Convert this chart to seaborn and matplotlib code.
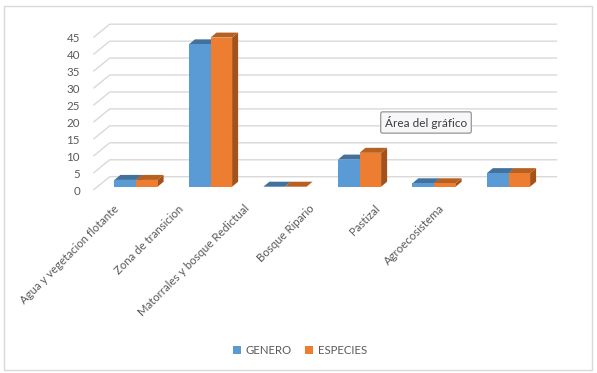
import pandas as pd
import seaborn as sns
import matplotlib.pyplot as plt
import matplotlib.transforms as mtransforms
from matplotlib.patches import Polygon, Rectangle

# datos del grafico
categorias = ["Agua y vegetacion flotante", "Zona de transicion",
              "Matorrales y bosque Redictual", "Bosque Ripario",
              "Pastizal", "Agroecosistema"]
genero = [2, 42, 0, 8, 1, 4]
especies = [2, 44, 0, 10, 1, 4]
series = ["GENERO", "ESPECIES"]
yticks = list(range(0, 50, 5))

azul, naranja = "#5B9BD5", "#ED7D31"
color_top = ["#41719C", "#B8601F"]
color_side = ["#3A6794", "#A3521A"]
gris = "#595959"

df = pd.DataFrame({
    "categoria": categorias * 2,
    "serie": [series[0]] * len(genero) + [series[1]] * len(especies),
    "valor": genero + especies,
})

sns.set_theme(style="white")
plt.rcParams['font.family'] = ['Lato', 'DejaVu Sans']

W, H = 597, 373
fig = plt.figure(figsize=(W / 100, H / 100), dpi=100)
fig.patch.set_facecolor("white")
ax = fig.add_axes([98.75 / W, (H - 186.7) / H, 447 / W, 152.5 / H])
ax.set_facecolor("none")

sns.barplot(data=df, x="categoria", y="valor", hue="serie", palette=[azul, naranja],
            width=0.58, saturation=1, linewidth=0, legend=False, ax=ax)
ax.set_xlim(-0.5, len(categorias) - 0.5)
ax.set_ylim(0, 45)
sns.despine(ax=ax, left=True, bottom=True)


def px(x, y, dx=0, dy=0):
    # desplaza un punto de datos unos pixeles
    X, Y = ax.transData.transform((x, y))
    return ax.transData.inverted().transform((X + dx, Y + dy))


# pared del fondo (lineas de cuadricula en perspectiva)
bx, by = 11, 10
for v in yticks:
    p0 = px(-0.5, v, -5, -3)
    p1 = px(-0.5, v, bx, by)
    p2 = px(len(categorias) - 0.5, v, bx, by)
    ax.plot([p0[0], p1[0], p2[0]], [p0[1], p1[1], p2[1]], color="#D9D9D9",
            lw=1, zorder=1, clip_on=False)

# caras superior y lateral de las barras
dx, dy = 6, 5
for k, cont in enumerate(ax.containers):
    z = 2 + 2 * k
    for bar in cont:
        x0, w, h = bar.get_x(), bar.get_width(), bar.get_height()
        bar.set_zorder(z + 1)
        bar.set_clip_on(False)
        top = [px(x0, h), px(x0 + w, h), px(x0 + w, h, dx, dy), px(x0, h, dx, dy)]
        side = [px(x0 + w, 0), px(x0 + w, h), px(x0 + w, h, dx, dy), px(x0 + w, 0, dx, dy)]
        ax.add_patch(Polygon(side, closed=True, fc=color_side[k], lw=0, zorder=z, clip_on=False))
        ax.add_patch(Polygon(top, closed=True, fc=color_top[k], lw=0, zorder=z, clip_on=False))

ax.set_xlabel("")
ax.set_ylabel("")
ax.set_xticks([])
ax.set_yticks(yticks)
ax.tick_params(axis="y", length=0, pad=13.5, labelsize=8.3, labelcolor=gris)
for lbl in ax.get_yticklabels():
    lbl.set_transform(lbl.get_transform() + mtransforms.ScaledTranslation(0, -0.035, fig.dpi_scale_trans))

# etiquetas del eje x
for i, cat in enumerate(categorias):
    fig.text((113 + 65.2 * i) / W, 1 - 203 / H, cat, rotation=45, ha="right", va="top",
             rotation_mode="anchor", fontsize=8.2, color=gris)

# leyenda
handles = [Rectangle((0, 0), 1, 1, fc=c, lw=0) for c in (azul, naranja)]
fig.legend(handles, series, loc="center", bbox_to_anchor=(300 / W, 1 - 350 / H), ncol=2,
           frameon=False, handlelength=0.7, handleheight=0.7, handletextpad=0.4,
           columnspacing=1.2, fontsize=8.2, labelcolor=gris)

# borde del area del grafico
fig.patches.append(Rectangle((4 / W, 3 / H), 588 / W, 364 / H, transform=fig.transFigure,
                             fill=False, ec="#D9D9D9", lw=1))

# tooltip de excel
fig.text(426 / W, 1 - 122.5 / H, "Área del gráfico", ha="center", va="center", fontsize=8.5,
         color="#3C3C3C", zorder=20,
         bbox=dict(boxstyle="round,pad=0.35,rounding_size=0.15", fc="#F7F7FA", ec="#8A8A8A", lw=0.8))

fig.savefig("out.png", dpi=100)
